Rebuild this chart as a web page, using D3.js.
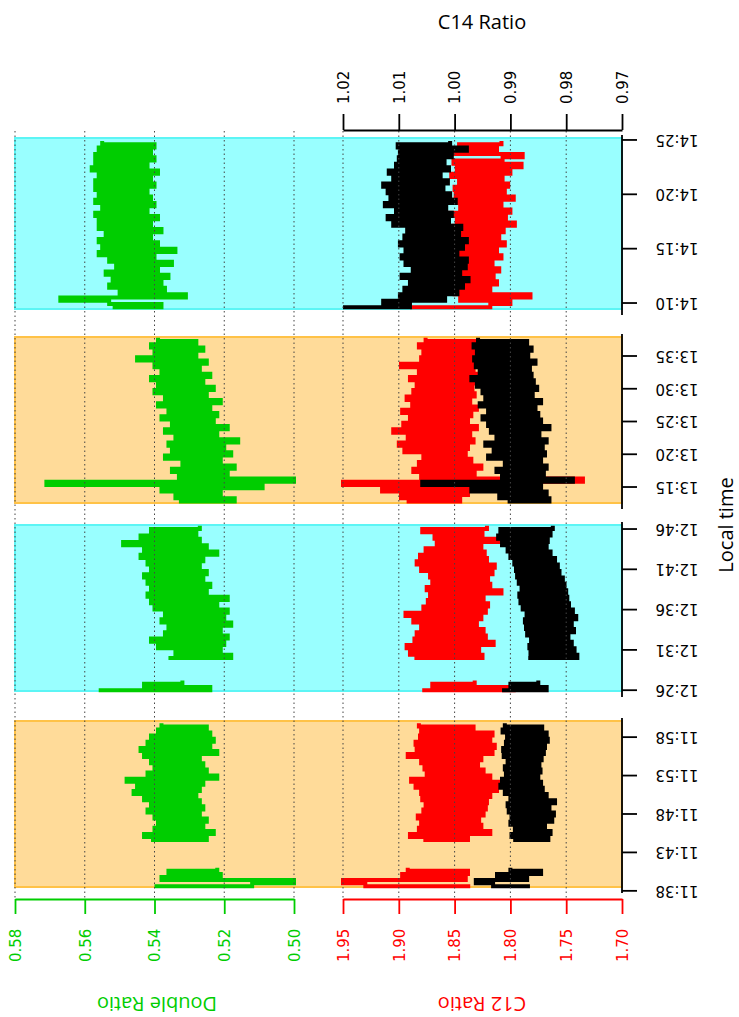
<!DOCTYPE html>
<html>
<head>
<meta charset="utf-8">
<script src="https://cdn.jsdelivr.net/npm/d3@7"></script>
<style>
  body { margin: 0; background: #fff; }
  svg text { font-family: "DejaVu Sans", sans-serif; }
  svg text.ttl { font-family: "Open Sans", sans-serif; font-size: 20px; }
</style>
</head>
<body>
<div id="chart"></div>
<script>
// time windows (minutes after midnight) covered by each shaded block, oldest first
const panelRange = [[698.5, 720.1], [745.9, 766.5], [792.56, 817.9], [849.45, 865.18]];
const panelTicks = [[698, 703, 708, 713, 718], [746, 751, 756, 761, 766], [795, 800, 805, 810, 815], [850, 855, 860, 865]];
const panelColor = ["orange", "cyan", "orange", "cyan"];
// sampling of each block: first sample time and interval (minutes)
const panelStart = [698.6, 746.0, 792.8, 849.6];
const panelStep = [0.4, 0.4, 0.5, 0.3];

const doubleTicks = [0.58, 0.56, 0.54, 0.52, 0.50];
const c12Ticks = [1.95, 1.90, 1.85, 1.80, 1.75, 1.70];
const c14Ticks = [1.02, 1.01, 1.00, 0.99, 0.98, 0.97];

const _ = null;

// block A 11:38 - 12:00
const doubleA = [0.540, 0.512, 0.500, 0.538, 0.521, 0.536, 0.522, _, _, _, _, _, _, _, _,
  0.541, 0.525, 0.543, 0.523, 0.540, 0.526, 0.539, 0.525, 0.540, 0.527, 0.542, 0.526,
  0.541, 0.527, 0.543, 0.528, 0.546, 0.527, 0.545, 0.526, 0.548, 0.522, 0.542, 0.525,
  0.540, 0.526, 0.541, 0.527, 0.543, 0.522, 0.544, 0.524, 0.542, 0.523, 0.541, 0.524,
  0.539, 0.525, 0.538];
const c12A = [1.836, 1.930, 1.950, 1.840, 1.897, 1.838, 1.892, _, _, _, _, _, _, _, _,
  1.878, 1.838, 1.890, 1.818, 1.882, 1.826, 1.880, 1.828, 1.883, 1.824, 1.878, 1.822,
  1.876, 1.821, 1.879, 1.818, 1.880, 1.812, 1.885, 1.803, 1.889, 1.818, 1.875, 1.824,
  1.877, 1.829, 1.880, 1.826, 1.892, 1.816, 1.884, 1.814, 1.885, 1.818, 1.881, 1.816,
  1.880, 1.833, 1.882];
const c14A = [0.9865, 0.9931, 0.9962, 0.9870, 0.9924, 0.9845, 0.9900, _, _, _, _, _, _, _, _,
  0.9895, 0.9832, 0.9898, 0.9828, 0.9892, 0.9838, 0.9900, 0.9825, 0.9898, 0.9822, 0.9903, 0.9830,
  0.9905, 0.9820, 0.9900, 0.9835, 0.9910, 0.9842, 0.9918, 0.9845, 0.9915, 0.9850, 0.9908, 0.9846,
  0.9910, 0.9848, 0.9905, 0.9844, 0.9912, 0.9840, 0.9913, 0.9838, 0.9908, 0.9833, 0.9906, 0.9835,
  0.9914, 0.9843, 0.9910];

// block B 12:26 - 12:46
const doubleB = [0.556, 0.524, 0.543, 0.532, _, _, _, _, _, _,
  0.536, 0.518, 0.534, 0.521, 0.539, 0.520, 0.541, 0.519, 0.537, 0.521, 0.536, 0.518,
  0.538, 0.520, 0.537, 0.519, 0.540, 0.522, 0.541, 0.519, 0.542, 0.525, 0.541, 0.524,
  0.542, 0.526, 0.543, 0.525, 0.541, 0.527, 0.542, 0.526, 0.544, 0.522, 0.543, 0.525,
  0.549, 0.527, 0.544, 0.528, 0.541, 0.527];
const c12B = [1.879, 1.797, 1.870, 1.832, _, _, _, _, _, _,
  1.886, 1.825, 1.890, 1.828, 1.893, 1.815, 1.886, 1.822, 1.884, 1.824, 1.880, 1.830,
  1.887, 1.826, 1.894, 1.822, 1.878, 1.820, 1.874, 1.824, 1.872, 1.808, 1.875, 1.818,
  1.870, 1.820, 1.872, 1.816, 1.880, 1.814, 1.884, 1.821, 1.881, 1.823, 1.876, 1.826,
  1.866, 1.798, 1.868, 1.825, 1.879, 1.821];
const c14B = [0.9915, 0.9835, 0.9900, 0.9850, _, _, _, _, _, _,
  0.9868, 0.9780, 0.9864, 0.9785, 0.9866, 0.9790, 0.9863, 0.9796, 0.9870, 0.9786, 0.9872, 0.9790,
  0.9874, 0.9782, 0.9871, 0.9788, 0.9878, 0.9795, 0.9882, 0.9798, 0.9884, 0.9800, 0.9880, 0.9803,
  0.9885, 0.9806, 0.9888, 0.9812, 0.9890, 0.9815, 0.9893, 0.9820, 0.9900, 0.9828, 0.9905, 0.9835,
  0.9915, 0.9833, 0.9922, 0.9828, 0.9918, 0.9824];

// block C 13:13 - 13:38
const doubleC = [0.533, 0.517, 0.534, 0.521, 0.538, 0.509, 0.571, 0.500,
  0.533, 0.519, 0.535, 0.517, 0.532, 0.521, 0.537, 0.518,
  0.535, 0.520, 0.536, 0.516, 0.534, 0.522, 0.537, 0.519, 0.535, 0.523,
  0.538, 0.522, 0.536, 0.524, 0.539, 0.521, 0.537, 0.525, 0.540, 0.523,
  0.539, 0.526, 0.541, 0.524, 0.538, 0.527, 0.540, 0.525, 0.545, 0.528,
  0.540, 0.526, 0.541, 0.528, 0.539];
const c12C = [1.893, 1.845, 1.898, 1.838, 1.915, 1.832, 1.950, 1.735,
  1.880, 1.832, 1.887, 1.826, 1.882, 1.835, 1.878, 1.840,
  1.895, 1.838, 1.900, 1.833, 1.892, 1.836, 1.905, 1.830, 1.896, 1.838,
  1.890, 1.835, 1.897, 1.830, 1.888, 1.836, 1.893, 1.832, 1.887, 1.834,
  1.884, 1.830, 1.890, 1.828, 1.882, 1.833, 1.898, 1.826, 1.880, 1.831,
  1.878, 1.829, 1.882, 1.827, 1.876];
const c14C = [0.9905, 0.9830, 0.9920, 0.9835, 0.9970, 0.9845, 1.0058, 0.9788,
  0.9915, 0.9840, 0.9925, 0.9835, 0.9910, 0.9845, 0.9940, 0.9838,
  0.9930, 0.9842, 0.9945, 0.9835, 0.9925, 0.9848, 0.9935, 0.9830, 0.9940, 0.9845,
  0.9950, 0.9850, 0.9940, 0.9855, 0.9955, 0.9845, 0.9945, 0.9860, 0.9950, 0.9852,
  0.9960, 0.9858, 0.9970, 0.9862, 0.9955, 0.9865, 0.9962, 0.9855, 0.9965, 0.9868,
  0.9960, 0.9862, 0.9966, 0.9870, 0.9958];

// block D 14:09 - 14:25
const doubleD = [0.552, 0.538, 0.553, 0.567, 0.531, 0.550,
  0.537, 0.553, 0.538, 0.552, 0.536, 0.554, 0.539, 0.551, 0.535, 0.553,
  0.540, 0.556, 0.534, 0.555, 0.539, 0.556, 0.541, 0.554, 0.538, 0.556,
  0.541, 0.556, 0.539, 0.557, 0.542, 0.555, 0.540, 0.557, 0.541, 0.556,
  0.542, 0.557, 0.540, 0.557, 0.541, 0.556, 0.539, 0.558, 0.542, 0.557,
  0.540, 0.557, 0.541, 0.556, 0.540, 0.555];
const c12D = [1.890, 1.818, 1.800, 1.845, 1.782, 1.850,
  1.818, 1.852, 1.812, 1.849, 1.815, 1.855, 1.810, 1.848, 1.816, 1.853,
  1.808, 1.850, 1.812, 1.846, 1.805, 1.852, 1.810, 1.847, 1.806, 1.851,
  1.796, 1.848, 1.804, 1.855, 1.800, 1.845, 1.808, 1.852, 1.797, 1.849,
  1.805, 1.850, 1.802, 1.846, 1.807, 1.853, 1.800, 1.848, 1.790, 1.851,
  1.807, 1.789, 1.850, 1.812, 1.846, 1.808];
const c14D = [1.0200, 1.0080, 1.0128, 1.0017, 1.0098, 0.9995,
  1.0090, 0.9985, 1.0080, 0.9975, 1.0095, 0.9990, 1.0075, 0.9980, 1.0088, 0.9978,
  1.0095, 0.9995, 1.0088, 0.9985, 1.0098, 0.9978, 1.0090, 0.9992, 1.0085, 0.9988,
  1.0110, 1.0010, 1.0120, 1.0005, 1.0105, 1.0015, 1.0125, 0.9998, 1.0115, 1.0008,
  1.0120, 1.0020, 1.0128, 1.0012, 1.0110, 1.0025, 1.0118, 1.0010, 1.0105, 1.0018,
  1.0100, 1.0005, 1.0098, 0.9978, 1.0102, 1.0008];

const doubleSeries = [doubleA, doubleB, doubleC, doubleD];
const c12Series = [c12A, c12B, c12C, c12D];
const c14Series = [c14A, c14B, c14C, c14D];

const GREEN = "#00cd00", RED = "#ff0000", BLACK = "#000";
const fills = { orange: "#ffdb99", cyan: "#99ffff" };
const strokes = { orange: "#ffc247", cyan: "#5cf5f5" };

const svg = d3.select("#chart").append("svg").attr("width", 739).attr("height", 1017);

// value scales run across the page (the chart is turned on its side)
const xDouble = d3.scaleLinear().domain([0.58, 0.50]).range([15, 294]);
const xC12 = d3.scaleLinear().domain([1.95, 1.70]).range([343, 622]);
const xC14 = d3.scaleLinear().domain([1.02, 0.97]).range([343, 622]);

// each block gets its own time scale down the page
const panelPx = [[887, 721], [691, 525], [503, 337], [309, 138]];
const yScales = panelRange.map((dom, i) => d3.scaleLinear().domain(dom).range(panelPx[i]));

const fmtTime = m => `${Math.floor(m / 60)}:${String(Math.round(m % 60)).padStart(2, "0")}`;

// shaded blocks
yScales.forEach((y, i) => {
    const d = panelRange[i];
    svg.append("rect")
        .attr("x", xDouble(0.58)).attr("width", xC12(1.70) - xDouble(0.58))
        .attr("y", y(d[1])).attr("height", y(d[0]) - y(d[1]))
        .attr("fill", fills[panelColor[i]])
        .attr("stroke", strokes[panelColor[i]]).attr("stroke-width", 2);
});

// series: thick stepped lines, time down the page
const seriesDefs = [
    { data: doubleSeries, x: xDouble, color: GREEN },
    { data: c12Series, x: xC12, color: RED },
    { data: c14Series, x: xC14, color: BLACK }
];
seriesDefs.forEach(s => {
    s.data.forEach((vals, i) => {
        const y = yScales[i];
        const pts = vals.map((v, k) => ({ t: panelStart[i] + panelStep[i] * k, v }));
        const line = d3.line()
            .defined(d => d.v !== null)
            .x(d => s.x(d.v)).y(d => y(d.t))
            .curve(d3.curveStepAfter);
        svg.append("path").datum(pts)
            .attr("d", line)
            .attr("fill", "none")
            .attr("stroke", s.color)
            .attr("stroke-width", 4)
            .attr("stroke-linejoin", "miter");
    });
});

// dotted grid
const gridX = doubleTicks.map(xDouble).concat(c12Ticks.slice(0, -1).map(xC12));
svg.append("g").attr("class", "grid").selectAll("line").data(gridX).join("line")
    .attr("x1", d => d).attr("x2", d => d)
    .attr("y1", 131).attr("y2", 898)
    .attr("stroke", "#444").attr("stroke-width", 1).attr("stroke-dasharray", "1.5,3");

// top C14 axis
const topAxis = svg.append("g").attr("class", "ax").attr("transform", "translate(0,130)")
    .call(d3.axisTop(xC14).tickValues(c14Ticks).tickFormat(d3.format(".2f")).tickSize(16).tickSizeOuter(0));
topAxis.selectAll("text")
    .attr("x", 0).attr("y", 0).attr("dy", "0.35em")
    .attr("transform", "translate(0,-26) rotate(-90)")
    .attr("text-anchor", "start").attr("fill", BLACK).style("font-size", "15px");

// bottom value axes
function bottomAxis(scale, ticks, color) {
    const g = svg.append("g").attr("class", "ax").attr("transform", "translate(0,899)")
        .call(d3.axisBottom(scale).tickValues(ticks).tickFormat(d3.format(".2f")).tickSize(15).tickSizeOuter(0));
    g.selectAll("text")
        .attr("x", 0).attr("y", 0).attr("dy", "0.35em")
        .attr("transform", "translate(0,63) rotate(-90)")
        .attr("text-anchor", "start").attr("fill", color).style("font-size", "15px");
    g.selectAll("line,path").attr("stroke", color);
    return g;
}
bottomAxis(xDouble, doubleTicks, GREEN);
bottomAxis(xC12, c12Ticks, RED);

// time axes, one piece per block
yScales.forEach((y, i) => {
    const g = svg.append("g").attr("class", "ax").attr("transform", "translate(622,0)");
    const d = panelRange[i];
    g.append("line").attr("x1", 0).attr("x2", 0)
        .attr("y1", y(d[0]) + 6).attr("y2", y(d[1]) - 3)
        .attr("stroke", BLACK);
    const t = g.selectAll(".tk").data(panelTicks[i]).join("g")
        .attr("transform", v => `translate(0,${y(v)})`);
    t.append("line").attr("x2", 15).attr("stroke", BLACK);
    t.append("text")
        .attr("transform", "translate(55,0) rotate(180)")
        .attr("dy", "0.35em").attr("text-anchor", "middle")
        .style("font-size", "15px").text(fmtTime);
});

svg.selectAll(".ax line, .ax path.domain").attr("stroke-width", 1.8);

// axis titles
svg.append("text").attr("class", "ttl")
    .attr("x", 482).attr("y", 22).attr("dy", "0.35em")
    .attr("text-anchor", "middle").text("C14 Ratio");
svg.append("text").attr("class", "ttl")
    .attr("transform", "translate(726,525) rotate(-90)")
    .attr("dy", "0.35em").attr("text-anchor", "middle").text("Local time");
svg.append("text").attr("class", "ttl")
    .attr("transform", "translate(157,1004) rotate(180)")
    .attr("dy", "0.35em").attr("text-anchor", "middle").attr("fill", GREEN).text("Double Ratio");
svg.append("text").attr("class", "ttl")
    .attr("transform", "translate(482,1004) rotate(180)")
    .attr("dy", "0.35em").attr("text-anchor", "middle").attr("fill", RED).text("C12 Ratio");
</script>
</body>
</html>
